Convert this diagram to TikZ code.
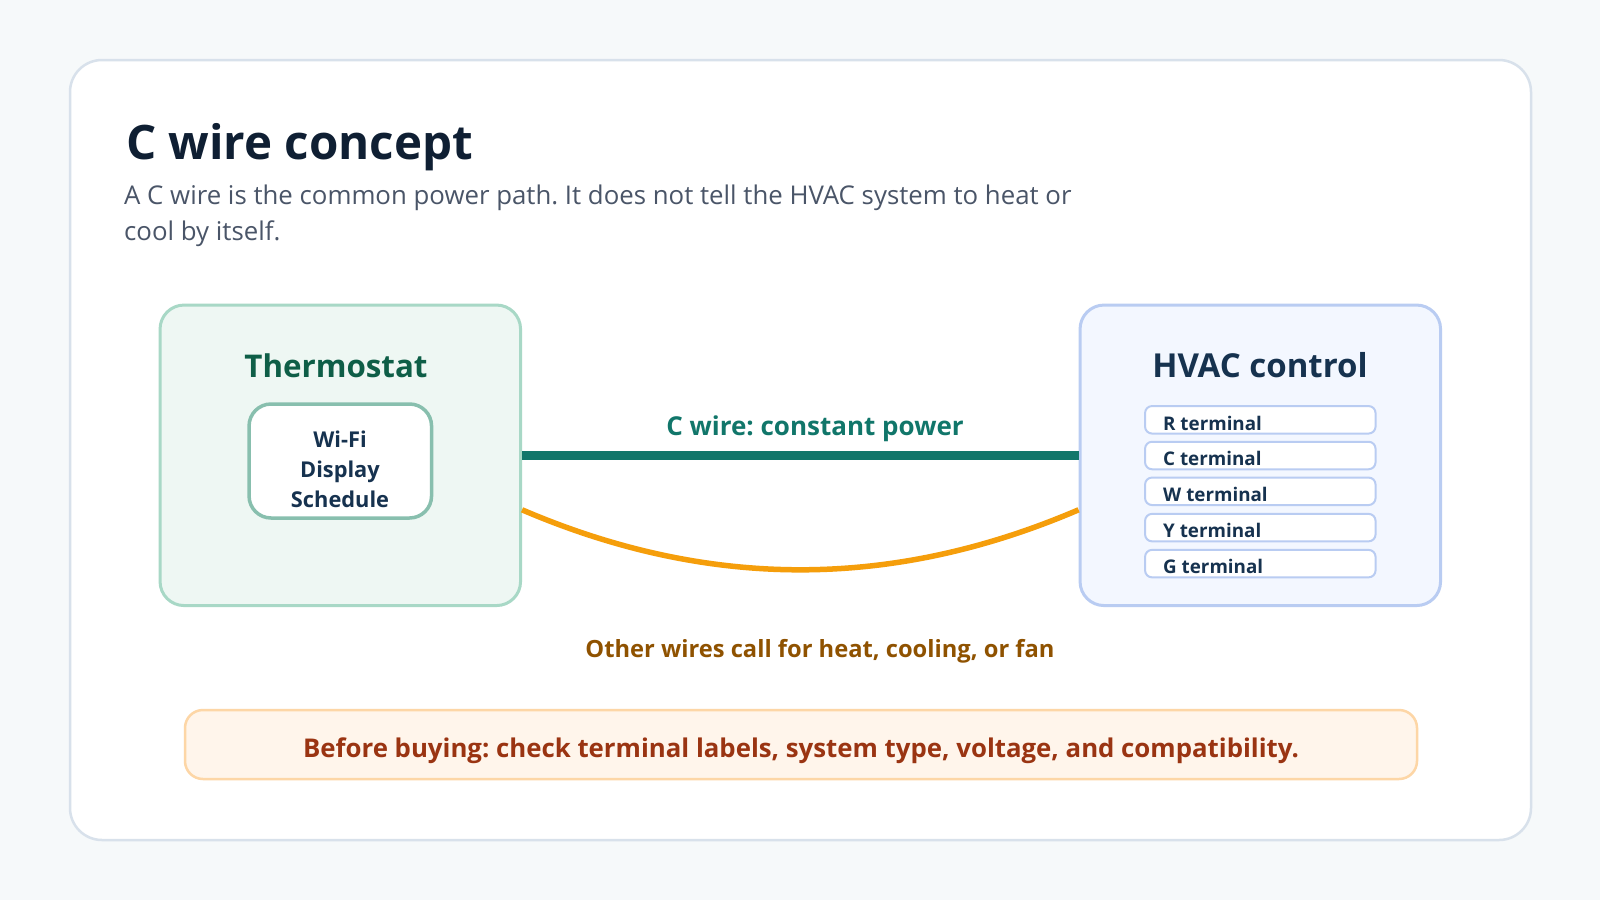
\documentclass[tikz,border=0pt]{standalone}
\usepackage{fontspec}
\setmainfont{Open Sans}
\frenchspacing
\definecolor{bgc}{HTML}{F6F9FA}
\definecolor{cardline}{HTML}{D8E1EB}
\definecolor{titlec}{HTML}{0F1F33}
\definecolor{subc}{HTML}{4A5568}
\definecolor{thfill}{HTML}{EEF7F3}
\definecolor{thline}{HTML}{A8D8C6}
\definecolor{thtext}{HTML}{0E5E47}
\definecolor{inline}{HTML}{88BFAE}
\definecolor{navy}{HTML}{16324F}
\definecolor{hvfill}{HTML}{F3F7FF}
\definecolor{hvline}{HTML}{B9CCF2}
\definecolor{cwirec}{HTML}{11766A}
\definecolor{orangec}{HTML}{F59E0B}
\definecolor{otherc}{HTML}{8F5200}
\definecolor{notefill}{HTML}{FFF5EB}
\definecolor{noteline}{HTML}{FDD6A6}
\definecolor{notetext}{HTML}{9A3412}
\tikzset{
  box/.style={draw, rounded corners=#1, inner sep=0pt},
  fs/.style={font=\fontsize{#1}{#1}\selectfont},
  fsb/.style={font=\fontsize{#1}{#1}\selectfont\bfseries},
  termbox/.style={box=7pt, draw=hvline, line width=2pt, fill=white, minimum width=230.5pt, minimum height=27.5pt},
  termtext/.style={fsb=18.8, text=navy, anchor=base west, inner sep=0pt},
}
\begin{document}
\begin{tikzpicture}[x=1pt,y=-1pt]
\fill[bgc] (0,0) rectangle (1600,900);
\useasboundingbox (0,0) rectangle (1600,900);
% card
\node[box=32pt, draw=cardline, line width=2.5pt, fill=white, minimum width=1461pt, minimum height=780pt] (card) at (800.5,450) {};
% title
\node[fsb=47.5, text=titlec, anchor=base west, inner sep=0pt] (title) at (126,159) {C wire concept};
\node[fs=25.8, text=subc, anchor=base west, inner sep=0pt] (sub1) at (124,204) {A C wire is the common power path. It does not tell the HVAC system to heat or};
\node[fs=25.8, text=subc, anchor=base west, inner sep=0pt] (sub2) at (124,240) {cool by itself.};
% thermostat
\node[box=24pt, draw=thline, line width=3pt, fill=thfill, minimum width=360.5pt, minimum height=300.5pt] (th) at (340.3,455.3) {};
\node[fsb=31.3, text=thtext, anchor=base, inner sep=0pt] (thl) at (336,377) {Thermostat};
\node[box=22pt, draw=inline, line width=3.5pt, fill=white, minimum width=182.5pt, minimum height=114pt] (inner) at (340.3,461) {};
\node[fsb=21.8, text=navy, anchor=base, inner sep=0pt] (i1) at (340,447) {Wi-Fi};
\node[fsb=21.8, text=navy, anchor=base, inner sep=0pt] (i2) at (340,477) {Display};
\node[fsb=21.8, text=navy, anchor=base, inner sep=0pt] (i3) at (340,507) {Schedule};
% hvac
\node[box=24pt, draw=hvline, line width=3pt, fill=hvfill, minimum width=360.5pt, minimum height=300.5pt] (hv) at (1260.3,455.3) {};
\node[fsb=33, text=navy, anchor=base, inner sep=0pt] (hvl) at (1260,377) {HVAC control};
\node[termbox] (tr) at (1260.3,419.8) {};
\node[termbox] (tc) at (1260.3,455.5) {};
\node[termbox] (tw) at (1260.3,491.3) {};
\node[termbox] (ty) at (1260.3,527.6) {};
\node[termbox] (tg) at (1260.3,563.6) {};
\node[termtext] at (1163,430) {R terminal};
\node[termtext] at (1163,465.7) {C terminal};
\node[termtext] at (1163,501.7) {W terminal};
\node[termtext] at (1163,537.7) {Y terminal};
\node[termtext] at (1163,573.3) {G terminal};
% wires
\draw[cwirec, line width=9pt] (th.east) -- (hv.west);
\node[fsb=26, text=cwirec, anchor=base, inner sep=0pt] (cwl) at (815,435) {C wire: constant power};
\draw[orangec, line width=5.5pt] ([yshift=-54.5pt]th.east) .. controls +(186.7,80) and +(-186.7,80) .. ([yshift=-54.5pt]hv.west);
\node[fsb=23.7, text=otherc, anchor=base, inner sep=0pt] (owl) at (820,657) {Other wires call for heat, cooling, or fan};
% note
\node[box=18pt, draw=noteline, line width=2.5pt, fill=notefill, minimum width=1232pt, minimum height=69pt] (note) at (801,744.5) {};
\node[fsb=25.8, text=notetext, anchor=base, inner sep=0pt] (notet) at (801,757) {Before buying: check terminal labels, system type, voltage, and compatibility.};
\end{tikzpicture}
\end{document}
